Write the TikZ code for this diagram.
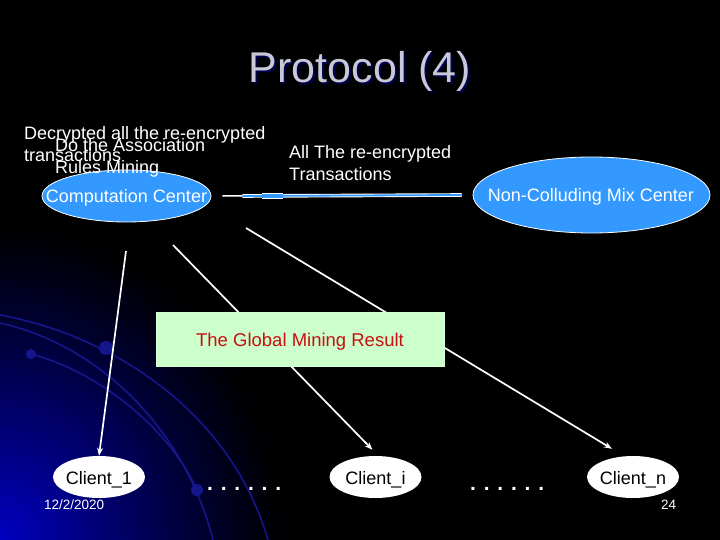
\documentclass[tikz,border=0pt]{standalone}
\usepackage{fontspec}
\setmainfont{Liberation Sans}
\usetikzlibrary{shapes.geometric,arrows.meta,calc}
\definecolor{cblue}{RGB}{51,153,255}
\definecolor{gbox}{RGB}{204,255,204}
\definecolor{rtext}{RGB}{200,16,16}
\definecolor{ttl}{RGB}{200,200,214}
\definecolor{arcb}{RGB}{22,22,140}
\definecolor{bgblue}{RGB}{0,0,195}
\begin{document}
\begin{tikzpicture}[x=1pt,y=-1pt,
  txt/.style={text=white,inner sep=0pt,font=\fontsize{18}{22}\selectfont},
  bluell/.style={ellipse,fill=cblue,draw=white,line width=0.8pt,inner sep=0pt},
  clientell/.style={ellipse,fill=white,inner sep=0pt,minimum width=92pt,minimum height=42pt},
  clienttxt/.style={text=black,inner sep=0pt,font=\fontsize{18}{22}\selectfont,anchor=base},
  conn/.style={draw=white,line width=1.7pt,-{Stealth[length=8pt,width=6pt]}},
  arcline/.style={draw=arcb,line width=1.6pt},
  dotsty/.style={text=white,inner sep=0pt,font=\fontsize{21}{21}\selectfont\bfseries,anchor=base west},
  small/.style={text=white,inner sep=0pt,font=\fontsize{13.5}{14}\selectfont,anchor=base west}]
\useasboundingbox (0,0) rectangle (720,540);
\fill[black] (0,0) rectangle (720,540);
\begin{scope}
\clip (0,0) rectangle (720,540);
\foreach \i in {0,...,47}{
  \pgfmathsetmacro\rr{1-\i/48}
  \pgfmathsetmacro\pc{100*(\i/48)^1.15}
  \fill[bgblue!\pc!black] (0,540) ellipse [x radius=290*\rr, y radius=320*\rr];
}
\end{scope}
% decorative arcs
\draw[arcline] (0,315) .. controls (110,335) and (230,410) .. (268,540);
\draw[arcline] (0,323) .. controls (100,345) and (185,430) .. (213,540);
\draw[arcline] (31,354) .. controls (100,372) and (170,430) .. (197,490);
\fill[arcb] (106,348) circle (7);
\fill[arcb] (31,354) circle (5);
\fill[arcb] (197,490) circle (6);
% title
\node[text=blue!30!black,inner sep=0pt,font=\fontsize{43}{43}\selectfont,anchor=base] (ttlsh) at (362,85) {Protocol (4)};
\node[text=ttl,inner sep=0pt,font=\fontsize{43}{43}\selectfont,anchor=base] (ttl) at (360,83) {Protocol (4)};
% centers
\node[bluell,minimum width=169pt,minimum height=52pt] (cc) at (126.5,196) {};
\node[txt,anchor=base] (cct) at (126.5,203) {Computation Center};
\node[bluell,minimum width=237pt,minimum height=76pt] (mc) at (591.5,195) {};
\node[txt,anchor=base] (mct) at (591,202) {Non-Colluding Mix Center};
% texts
\node[txt,anchor=base west] (dec1) at (24,140) {Decrypted all the re-encrypted};
\node[txt,anchor=base west] (dec2) at (24,162) {transactions};
\node[txt,anchor=base west] (doa1) at (55,152) {Do the Association};
\node[txt,anchor=base west] (doa2) at (55,174) {Rules Mining};
\node[txt,anchor=base west] (all1) at (289,159) {All The re-encrypted};
\node[txt,anchor=base west] (all2) at (289,181) {Transactions};
% horizontal connector
\coordinate (h1) at ($(cc.east)+(11,0)$);
\coordinate (h2) at ($(cc.east)+(31,0)$);
\coordinate (h3) at ($(cc.east)+(51,0)$);
\coordinate (h4) at ($(cc.east)+(72,0)$);
\coordinate (h5) at ($(mc.west)+(-11,0)$);
\draw[white,line width=1.5pt] (h1) -- (h5);
\draw[white,line width=3.6pt] (h2) -- (h5);
\draw[cblue,line width=1.8pt] (h2) -- (h5);
\draw[white,line width=5.5pt] (h3) -- (h4);
\draw[cblue,line width=3.5pt] (h3) -- (h4);
% clients
\node[clientell] (c1) at (99,477) {};
\node[clienttxt] (c1t) at (99,484) {Client\_1};
\node[clientell] (ci) at (375.5,477) {};
\node[clienttxt] (cit) at (375.5,484) {Client\_i};
\node[clientell] (cn) at (633,477) {};
\node[clienttxt] (cnt) at (633,484) {Client\_n};
% arrows
\coordinate (s1) at (126,251);
\coordinate (s2) at (173,245);
\coordinate (s3) at (246,228);
\draw[conn] (s1) -- (c1.north);
\draw[conn] (s2) -- ($(ci.north)+(-3,-6)$);
\draw[conn] (s3) -- ($(cn.north)+(-21,-7)$);
% result box
\node[fill=gbox,draw=gbox!80!white,minimum width=288pt,minimum height=54pt,inner sep=0pt,anchor=north west] (res) at (156,312) {};
\node[text=rtext,inner sep=0pt,font=\fontsize{18.5}{22}\selectfont,anchor=base] (rest) at (300,346) {The Global Mining Result};
% dots
\node[dotsty] (d1) at (207,490) {. . . . . .};
\node[dotsty] (d2) at (470,490) {. . . . . .};
% footer
\node[small] (date) at (44,509) {12/2/2020};
\node[small] (pg) at (661,509) {24};
\end{tikzpicture}
\end{document}
